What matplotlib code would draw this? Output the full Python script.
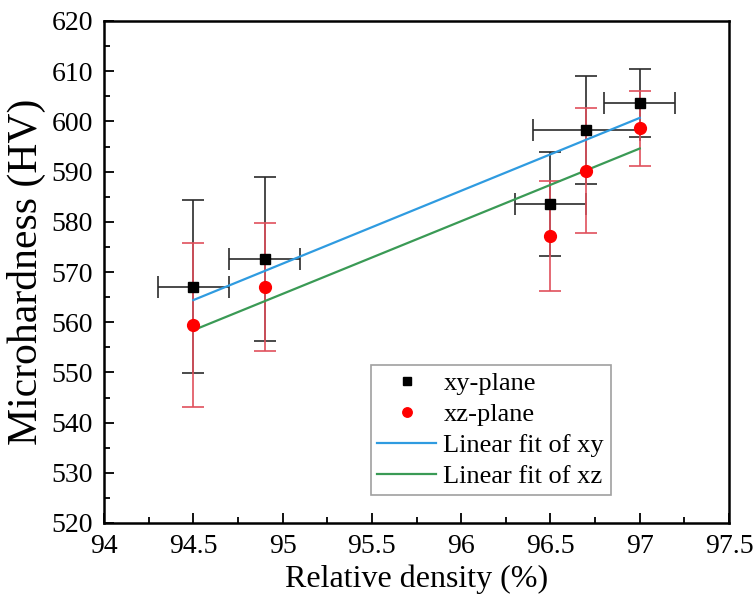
import numpy as np
import matplotlib
matplotlib.use("Agg")
import matplotlib.pyplot as plt
from matplotlib.ticker import MultipleLocator, AutoMinorLocator

# ---------------- data ----------------
density = [94.5, 94.9, 96.5, 96.7, 97.0]
density_err = [0.2, 0.2, 0.2, 0.3, 0.2]

hv_xy = [567.1, 572.6, 583.5, 598.3, 603.6]
hv_xy_err = [17.2, 16.3, 10.4, 10.8, 6.8]

hv_xz = [559.4, 567.0, 577.2, 590.2, 598.6]
hv_xz_err = [16.3, 12.8, 10.9, 12.4, 7.5]

# linear fits as drawn (end points)
fit_x = [94.5, 97.0]
fit_xy = [564.4, 600.7]
fit_xz = [558.4, 594.6]

x_ticks = [94, 94.5, 95, 95.5, 96, 96.5, 97, 97.5]
x_ticklabels = ['94', '94.5', '95', '95.5', '96', '96.5', '97', '97.5']

# ---------------- plot ----------------
plt.rcParams['font.family'] = ['Liberation Serif', 'DejaVu Serif']

fig = plt.figure(figsize=(7.54, 5.95), dpi=100)
ax = fig.add_axes([104/754, (595-523)/595, 625/754, 502/595])

ax.errorbar(density, hv_xy, yerr=hv_xy_err, xerr=density_err, fmt='none',
            ecolor='#2b2b2b', elinewidth=1.2, capsize=8, capthick=1.2, zorder=2)
ax.errorbar(density, hv_xz, yerr=hv_xz_err, fmt='none',
            ecolor='#e0505c', elinewidth=1.2, capsize=8, capthick=1.2, zorder=3)

ax.plot(fit_x, fit_xy, color='#2f9be0', lw=1.6, zorder=4, label='Linear fit of xy')
ax.plot(fit_x, fit_xz, color='#3a9a55', lw=1.6, zorder=4, label='Linear fit of xz')

ax.plot(density, hv_xy, 's', color='black', ms=7.5, ls='none', zorder=5, label='xy-plane')
ax.plot(density, hv_xz, 'o', color='#ff0000', ms=8.5, ls='none', zorder=6, label='xz-plane')

ax.set_xlim(94, 97.5)
ax.set_ylim(520, 620)
ax.set_xticks(x_ticks)
ax.set_xticklabels(x_ticklabels)
ax.yaxis.set_major_locator(MultipleLocator(10))
ax.xaxis.set_minor_locator(AutoMinorLocator(2))
ax.yaxis.set_minor_locator(AutoMinorLocator(2))

ax.tick_params(which='major', direction='in', length=7, width=1.3, labelsize=20, pad=8)
ax.tick_params(which='minor', direction='in', length=4, width=1.3)
for s in ax.spines.values():
    s.set_linewidth(1.8)

ax.set_xlabel('Relative density (%)', fontsize=23, labelpad=4)
ax.set_ylabel('Microhardness (HV)', fontsize=30, labelpad=4)

handles, labels = ax.get_legend_handles_labels()
order = [labels.index(l) for l in ['xy-plane', 'xz-plane', 'Linear fit of xy', 'Linear fit of xz']]
leg = ax.legend([handles[i] for i in order], [labels[i] for i in order],
                loc='lower left', bbox_to_anchor=(0.427, 0.056), borderaxespad=0,
                fontsize=19, frameon=True, fancybox=False, edgecolor='#888888',
                handlelength=2.2, handletextpad=0.3, labelspacing=0.29,
                borderpad=0.25, markerscale=0.8)
leg.get_frame().set_linewidth(1.2)

fig.savefig('out.png', dpi=100)
